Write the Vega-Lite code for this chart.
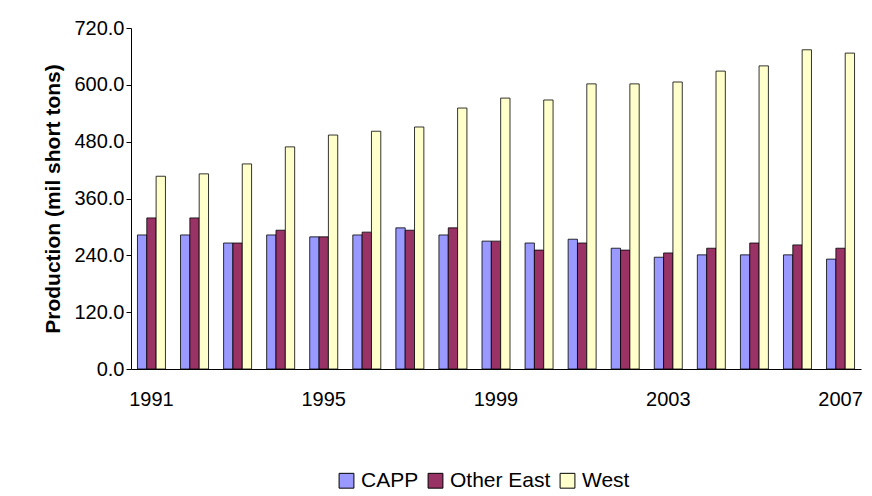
{
  "$schema": "https://vega.github.io/schema/vega-lite/v6.json",
  "width": 730,
  "height": 341,
  "padding": {"left": 42, "top": 18, "right": 2, "bottom": 5},
  "config": {"view": {"stroke": null}, "font": "Liberation Sans"},
  "data": {"values": [
    {"year": "1991", "CAPP": 283, "Other East": 319, "West": 407},
    {"year": "1992", "CAPP": 283, "Other East": 319, "West": 412},
    {"year": "1993", "CAPP": 266, "Other East": 266, "West": 433},
    {"year": "1994", "CAPP": 283, "Other East": 293, "West": 469},
    {"year": "1995", "CAPP": 279, "Other East": 279, "West": 494},
    {"year": "1996", "CAPP": 283, "Other East": 289, "West": 502},
    {"year": "1997", "CAPP": 298, "Other East": 293, "West": 511},
    {"year": "1998", "CAPP": 283, "Other East": 298, "West": 551},
    {"year": "1999", "CAPP": 270, "Other East": 270, "West": 572},
    {"year": "2000", "CAPP": 266, "Other East": 251, "West": 568},
    {"year": "2001", "CAPP": 274, "Other East": 266, "West": 602},
    {"year": "2002", "CAPP": 255, "Other East": 251, "West": 602},
    {"year": "2003", "CAPP": 236, "Other East": 245, "West": 606},
    {"year": "2004", "CAPP": 241, "Other East": 255, "West": 629},
    {"year": "2005", "CAPP": 241, "Other East": 266, "West": 640},
    {"year": "2006", "CAPP": 241, "Other East": 262, "West": 674},
    {"year": "2007", "CAPP": 232, "Other East": 255, "West": 667}
  ]},
  "transform": [{"fold": ["CAPP", "Other East", "West"], "as": ["series", "value"]}],
  "mark": {"type": "bar", "stroke": "black", "strokeWidth": 0.8},
  "encoding": {
    "x": {"field": "year", "type": "nominal", "title": null,
      "scale": {"paddingInner": 0.35, "paddingOuter": 0.15},
      "axis": {"labelAngle": 0, "labelFontSize": 20, "labelColor": "black", "domainColor": "black", "tickColor": "black", "ticks": false, "labelPadding": 20,
        "labelExpr": "indexof(['1991','1995','1999','2003','2007'], datum.label) >= 0 ? datum.label : ''"}},
    "xOffset": {"field": "series", "sort": ["CAPP", "Other East", "West"]},
    "y": {"field": "value", "type": "quantitative", "title": "Production (mil short tons)",
      "scale": {"domain": [0, 720]},
      "axis": {"values": [0, 120, 240, 360, 480, 600, 720], "format": ".1f", "grid": false, "labelFontSize": 20, "labelColor": "black",
        "titleFontSize": 21, "titleFontWeight": "bold", "titleColor": "black", "domainColor": "black", "tickColor": "black", "titlePadding": 10}},
    "color": {"field": "series", "type": "nominal", "title": null,
      "scale": {"domain": ["CAPP", "Other East", "West"], "range": ["#9999FF", "#993366", "#FFFFCC"]},
      "legend": {"orient": "none", "legendX": 205, "legendY": 442, "direction": "horizontal", "labelFontSize": 21, "labelColor": "black", "symbolType": "square", "symbolSize": 220, "symbolStrokeColor": "black", "symbolStrokeWidth": 1, "columnPadding": 6}}
  }
}
